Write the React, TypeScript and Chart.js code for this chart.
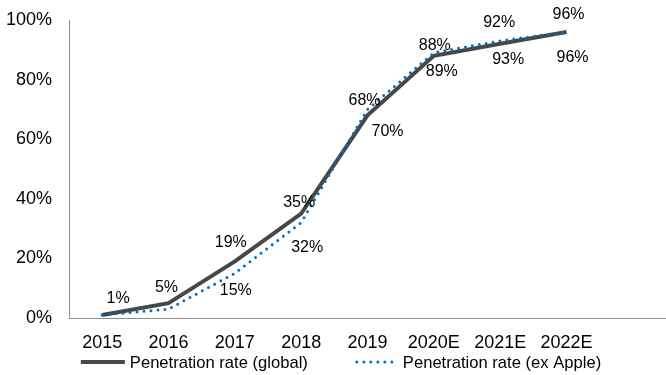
import React, { useEffect, useRef } from "react";
import { Chart, registerables } from "chart.js";

Chart.register(...registerables);

const categories = ["2015", "2016", "2017", "2018", "2019", "2020E", "2021E", "2022E", ""];
const globalRate = [1, 5, 19, 35, 68, 88, 92, 96];
const exAppleRate = [1, 3, 15, 32, 70, 89, 93, 96];
const globalLabels = ["1%", "5%", "19%", "35%", "68%", "88%", "92%", "96%"];
const exAppleLabels = [null, null, "15%", "32%", "70%", "89%", "93%", "96%"];
const yTicks = [0, 20, 40, 60, 80, 100];
const seriesNames = ["Penetration rate (global)", "Penetration rate (ex Apple)"];

// label placement (style only)
const globalLabelOffsets = [[16, -16], [-2, -16], [-4, -19], [-2, -11], [-3, -15], [1, -10], [-1, -21], [2, -17]];
const exAppleLabelOffsets = [null, null, [1, 17], [6, 25], [20, 22], [8, 19], [8, 19], [6, 26]];

const FONT = "'Liberation Sans', Arial, sans-serif";
const GRAY = "#474747";
const BLUE = "#0070C0";

const dataLabelPlugin = {
  id: "dataLabelPlugin",
  afterDatasetsDraw(chart: any) {
    const ctx = chart.ctx;
    ctx.save();
    ctx.font = `16px ${FONT}`;
    ctx.fillStyle = "#000";
    ctx.textAlign = "center";
    ctx.textBaseline = "middle";
    const sets = [
      { idx: 0, labels: globalLabels, offs: globalLabelOffsets },
      { idx: 1, labels: exAppleLabels, offs: exAppleLabelOffsets },
    ];
    sets.forEach((s) => {
      const meta = chart.getDatasetMeta(s.idx);
      meta.data.forEach((pt: any, i: number) => {
        const lab = s.labels[i];
        const off = s.offs[i];
        if (!lab || !off) return;
        ctx.fillText(lab, pt.x + off[0], pt.y + off[1]);
      });
    });
    ctx.restore();
  },
};

const legendPlugin = {
  id: "customLegend",
  afterDraw(chart: any) {
    const ctx = chart.ctx;
    ctx.save();
    ctx.font = `16.6px ${FONT}`;
    ctx.textBaseline = "middle";
    ctx.textAlign = "left";
    const sampleW = 44;
    const gap = 5;
    const itemGap = 48;
    const w1 = ctx.measureText(seriesNames[0]).width;
    const w2 = ctx.measureText(seriesNames[1]).width;
    const total = sampleW + gap + w1 + itemGap + sampleW + gap + w2;
    let x = chart.width / 2 + 9 - total / 2;
    const y = chart.height - 13;
    // item 1
    ctx.strokeStyle = GRAY;
    ctx.lineWidth = 4;
    ctx.lineCap = "butt";
    ctx.setLineDash([]);
    ctx.beginPath();
    ctx.moveTo(x, y);
    ctx.lineTo(x + sampleW, y);
    ctx.stroke();
    ctx.fillStyle = "#000";
    ctx.fillText(seriesNames[0], x + sampleW + gap, y + 1);
    x += sampleW + gap + w1 + itemGap;
    // item 2
    ctx.strokeStyle = BLUE;
    ctx.lineWidth = 3;
    ctx.lineCap = "round";
    ctx.setLineDash([0, 7]);
    ctx.beginPath();
    ctx.moveTo(x + 1, y);
    ctx.lineTo(x + sampleW - 2, y);
    ctx.stroke();
    ctx.setLineDash([]);
    ctx.fillText(seriesNames[1], x + sampleW + gap - 2, y + 1);
    ctx.restore();
  },
};

export default function App() {
  const ref = useRef<HTMLCanvasElement | null>(null);
  useEffect(() => {
    if (!ref.current) return;
    const chart = new Chart(ref.current, {
      type: "line",
      data: {
        labels: categories,
        datasets: [
          {
            label: seriesNames[0],
            data: globalRate,
            borderColor: GRAY,
            borderWidth: 4,
            pointRadius: 0,
            tension: 0,
            order: 1,
          },
          {
            label: seriesNames[1],
            data: exAppleRate,
            borderColor: BLUE,
            borderWidth: 3,
            borderDash: [0, 7],
            borderCapStyle: "round",
            pointRadius: 0,
            tension: 0,
            order: 0,
          },
        ],
      },
      options: {
        animation: false,
        responsive: false,
        maintainAspectRatio: false,
        layout: { padding: { top: 20, right: 0, bottom: 27, left: 0 } },
        plugins: {
          legend: { display: false },
          tooltip: { enabled: false },
        },
        scales: {
          x: {
            offset: true,
            grid: { display: false, drawTicks: false },
            border: { display: true, color: "#8c8c8c", width: 1 },
            ticks: {
              color: "#000",
              font: { family: FONT, size: 18 },
              padding: 14,
              maxRotation: 0,
              autoSkip: false,
            },
            afterFit: (s: any) => {
              s.height = 30;
              s.paddingLeft = 0;
              s.paddingRight = 0;
            },
          },
          y: {
            min: 0,
            max: 100,
            grid: { display: false, drawTicks: false },
            border: { display: true, color: "#8c8c8c", width: 1 },
            afterBuildTicks: (s: any) => {
              s.ticks = yTicks.map((v) => ({ value: v }));
            },
            ticks: {
              color: "#000",
              font: { family: FONT, size: 18 },
              padding: 17,
              callback: (v: any) => `${v}%`,
            },
            afterFit: (s: any) => {
              s.width = 69;
              s.paddingTop = 0;
              s.paddingBottom = 0;
            },
          },
        },
      },
      plugins: [dataLabelPlugin, legendPlugin],
    });
    return () => chart.destroy();
  }, []);
  return (
    <div style={{ position: "fixed", left: 0, top: 0, width: 666, height: 375, background: "#fff" }}>
      <canvas ref={ref} width={666} height={375} style={{ width: 666, height: 375 }} />
    </div>
  );
}
